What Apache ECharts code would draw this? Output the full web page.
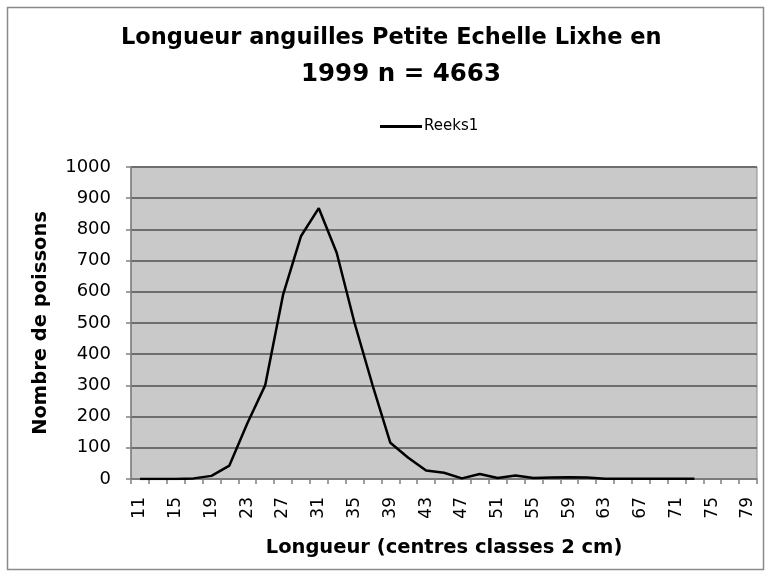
<!DOCTYPE html>
<html>
<head>
<meta charset="utf-8">
<script src="https://cdn.jsdelivr.net/npm/echarts@6/dist/echarts.min.js"></script>
<style>html,body{margin:0;padding:0;background:#fff;}#c{width:766px;height:573px;}</style>
</head>
<body>
<div id="c"></div>
<script>
var categories = ['11','13','15','17','19','21','23','25','27','29','31','33','35','37','39','41','43','45','47','49','51','53','55','57','59','61','63','65','67','69','71','73','75','77','79'];
var reeks1 = [0,0,0,2,10,43,178,300,590,778,868,725,500,302,116,68,27,20,2,16,3,11,3,5,6,5,1,1,1,1,1,1,null,null,null];
var yTicks = [0,100,200,300,400,500,600,700,800,900,1000];
var titleLines = ['Longueur anguilles Petite Echelle Lixhe en', '1999 n = 4663'];

var chart = echarts.init(document.getElementById('c'), null, {renderer:'canvas'});
chart.setOption({
  animation: false,
  backgroundColor: '#ffffff',
  graphic: [{
    type: 'rect', left: 5, top: 5, silent: true,
    shape: {x: 0, y: 0, width: 756, height: 562},
    style: {fill: 'none', stroke: '#8a8a8a', lineWidth: 1.5}
  }],
  title: [{
    text: titleLines[0], left: 121, top: 27, padding: 0,
    textStyle: {fontFamily: 'DejaVu Sans', fontWeight: 'bold', fontSize: 22.5, color: '#000'}
  }, {
    text: titleLines[1], left: 301, top: 62, padding: 0,
    textStyle: {fontFamily: 'DejaVu Sans', fontWeight: 'bold', fontSize: 24.5, color: '#000'}
  }],
  legend: {
    left: 375, top: 114,
    icon: 'rect', itemWidth: 42, itemHeight: 3, itemGap: 2,
    textStyle: {fontFamily: 'DejaVu Sans', fontSize: 15, color: '#000', padding: [0,0,0,-3]},
    data: ['Reeks1']
  },
  grid: {
    left: 131, right: 9, top: 167, bottom: 94,
    show: true, backgroundColor: '#c9c9c9', borderColor: '#8a8a8a', borderWidth: 1
  },
  xAxis: {
    type: 'category', data: categories, boundaryGap: true,
    name: 'Longueur (centres classes 2 cm)', nameLocation: 'middle', nameGap: 59,
    nameTextStyle: {fontFamily: 'DejaVu Sans', fontWeight: 'bold', fontSize: 19.5, color: '#000'},
    axisLine: {lineStyle: {color: '#808080', width: 1.5}},
    axisTick: {show: true, interval: 0, length: 5, lineStyle: {color: '#808080', width: 1.5}},
    axisLabel: {interval: 1, rotate: 90, fontFamily: 'DejaVu Sans', fontSize: 17, color: '#000', margin: 18}
  },
  yAxis: {
    type: 'value', min: 0, max: 1000, interval: 100,
    name: 'Nombre de poissons', nameLocation: 'middle', nameGap: 80, nameRotate: 90,
    nameTextStyle: {fontFamily: 'DejaVu Sans', fontWeight: 'bold', fontSize: 19.5, color: '#000'},
    axisLine: {show: true, lineStyle: {color: '#808080', width: 1.5}},
    axisTick: {show: true, length: 5, lineStyle: {color: '#808080', width: 1.5}},
    axisLabel: {fontFamily: 'DejaVu Sans', fontSize: 18, color: '#000', margin: 20,
      formatter: function(v){ return yTicks.indexOf(v) >= 0 ? String(v) : ''; }},
    splitLine: {show: true, lineStyle: {color: '#6e6e6e', width: 2}}
  },
  series: [{
    name: 'Reeks1', type: 'line', data: reeks1,
    showSymbol: false, symbol: 'none', connectNulls: false,
    lineStyle: {color: '#000', width: 2.5},
    itemStyle: {color: '#000'}
  }]
});
</script>
</body>
</html>
